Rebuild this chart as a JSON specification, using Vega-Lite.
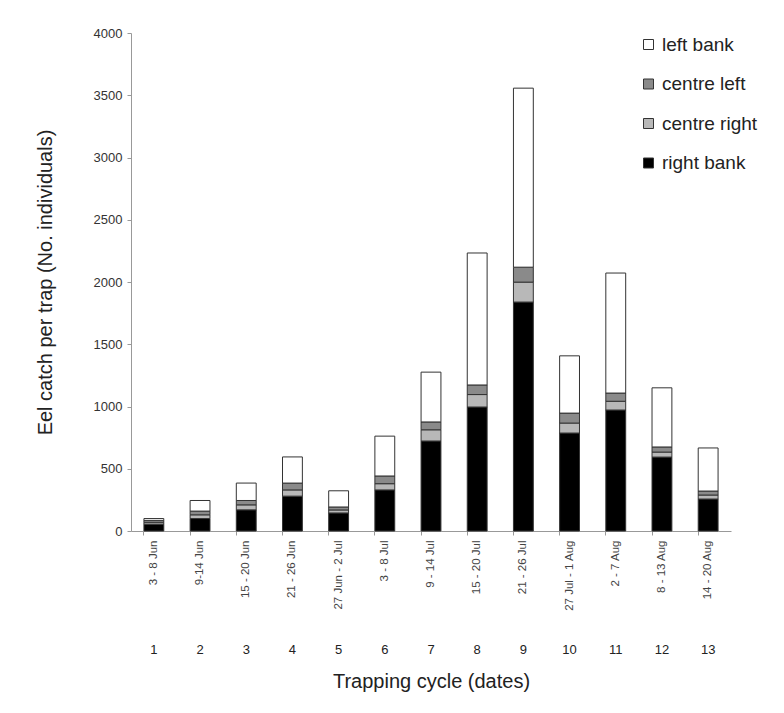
{
  "$schema": "https://vega.github.io/schema/vega-lite/v6.json",
  "width": 600,
  "height": 498,
  "autosize": {"type": "none"},
  "padding": {"left": 131, "top": 33, "right": 53, "bottom": 182},
  "background": "white",
  "config": {
    "font": "Liberation Sans",
    "view": {"stroke": null},
    "axis": {"labelColor": "#333", "titleColor": "#222", "domainColor": "#999", "tickColor": "#999", "grid": false, "labelFont": "Liberation Sans", "titleFont": "Liberation Sans", "titleFontWeight": "normal"},
    "axisY": {"titleFontSize": 20, "titlePadding": 38, "labelFontSize": 13, "tickSize": 4, "labelPadding": 5}
  },
  "data": {"values": [
    {"cycle": 1, "bank": "right bank", "ord": 1, "count": 55},
    {"cycle": 1, "bank": "centre right", "ord": 2, "count": 15},
    {"cycle": 1, "bank": "centre left", "ord": 3, "count": 15},
    {"cycle": 1, "bank": "left bank", "ord": 4, "count": 15},
    {"cycle": 2, "bank": "right bank", "ord": 1, "count": 100},
    {"cycle": 2, "bank": "centre right", "ord": 2, "count": 30},
    {"cycle": 2, "bank": "centre left", "ord": 3, "count": 30},
    {"cycle": 2, "bank": "left bank", "ord": 4, "count": 85},
    {"cycle": 3, "bank": "right bank", "ord": 1, "count": 170},
    {"cycle": 3, "bank": "centre right", "ord": 2, "count": 40},
    {"cycle": 3, "bank": "centre left", "ord": 3, "count": 35},
    {"cycle": 3, "bank": "left bank", "ord": 4, "count": 140},
    {"cycle": 4, "bank": "right bank", "ord": 1, "count": 280},
    {"cycle": 4, "bank": "centre right", "ord": 2, "count": 50},
    {"cycle": 4, "bank": "centre left", "ord": 3, "count": 55},
    {"cycle": 4, "bank": "left bank", "ord": 4, "count": 210},
    {"cycle": 5, "bank": "right bank", "ord": 1, "count": 145},
    {"cycle": 5, "bank": "centre right", "ord": 2, "count": 24},
    {"cycle": 5, "bank": "centre left", "ord": 3, "count": 24},
    {"cycle": 5, "bank": "left bank", "ord": 4, "count": 130},
    {"cycle": 6, "bank": "right bank", "ord": 1, "count": 330},
    {"cycle": 6, "bank": "centre right", "ord": 2, "count": 50},
    {"cycle": 6, "bank": "centre left", "ord": 3, "count": 62},
    {"cycle": 6, "bank": "left bank", "ord": 4, "count": 320},
    {"cycle": 7, "bank": "right bank", "ord": 1, "count": 723},
    {"cycle": 7, "bank": "centre right", "ord": 2, "count": 90},
    {"cycle": 7, "bank": "centre left", "ord": 3, "count": 63},
    {"cycle": 7, "bank": "left bank", "ord": 4, "count": 400},
    {"cycle": 8, "bank": "right bank", "ord": 1, "count": 996},
    {"cycle": 8, "bank": "centre right", "ord": 2, "count": 100},
    {"cycle": 8, "bank": "centre left", "ord": 3, "count": 77},
    {"cycle": 8, "bank": "left bank", "ord": 4, "count": 1060},
    {"cycle": 9, "bank": "right bank", "ord": 1, "count": 1839},
    {"cycle": 9, "bank": "centre right", "ord": 2, "count": 160},
    {"cycle": 9, "bank": "centre left", "ord": 3, "count": 120},
    {"cycle": 9, "bank": "left bank", "ord": 4, "count": 1438},
    {"cycle": 10, "bank": "right bank", "ord": 1, "count": 787},
    {"cycle": 10, "bank": "centre right", "ord": 2, "count": 80},
    {"cycle": 10, "bank": "centre left", "ord": 3, "count": 80},
    {"cycle": 10, "bank": "left bank", "ord": 4, "count": 460},
    {"cycle": 11, "bank": "right bank", "ord": 1, "count": 972},
    {"cycle": 11, "bank": "centre right", "ord": 2, "count": 70},
    {"cycle": 11, "bank": "centre left", "ord": 3, "count": 66},
    {"cycle": 11, "bank": "left bank", "ord": 4, "count": 964},
    {"cycle": 12, "bank": "right bank", "ord": 1, "count": 594},
    {"cycle": 12, "bank": "centre right", "ord": 2, "count": 40},
    {"cycle": 12, "bank": "centre left", "ord": 3, "count": 41},
    {"cycle": 12, "bank": "left bank", "ord": 4, "count": 475},
    {"cycle": 13, "bank": "right bank", "ord": 1, "count": 257},
    {"cycle": 13, "bank": "centre right", "ord": 2, "count": 32},
    {"cycle": 13, "bank": "centre left", "ord": 3, "count": 32},
    {"cycle": 13, "bank": "left bank", "ord": 4, "count": 346}
  ]},
  "resolve": {"axis": {"x": "independent"}},
  "layer": [
    {
      "mark": {"type": "bar", "stroke": "#333", "strokeWidth": 1},
      "encoding": {
        "x": {
          "field": "cycle", "type": "ordinal",
          "scale": {"paddingInner": 0.57, "paddingOuter": 0.28},
          "axis": {
            "orient": "bottom", "title": null, "labelAngle": -90, "labelPadding": 9, "labelFontSize": 11.5, "labelColor": "#444",
            "ticks": false, "domain": false, "labelOverlap": false,
            "labelExpr": "['3 - 8 Jun','9-14 Jun','15 - 20 Jun','21 - 26 Jun','27 Jun - 2 Jul','3 - 8 Jul','9 - 14 Jul','15 - 20 Jul','21 - 26 Jul','27 Jul - 1 Aug','2 - 7 Aug','8 - 13 Aug','14 - 20 Aug'][datum.value - 1]"
          }
        },
        "y": {
          "field": "count", "type": "quantitative", "stack": "zero",
          "title": "Eel catch per trap (No. individuals)",
          "scale": {"domain": [0, 4000], "nice": false},
          "axis": {"title": "Eel catch per trap (No. individuals)", "format": "d", "values": [0, 500, 1000, 1500, 2000, 2500, 3000, 3500, 4000]}
        },
        "color": {
          "field": "bank", "type": "nominal",
          "scale": {"domain": ["left bank", "centre left", "centre right", "right bank"], "range": ["#ffffff", "#8a8a8a", "#b8b8b8", "#000000"]},
          "legend": {
            "title": null, "orient": "none", "legendX": 508, "legendY": 2,
            "symbolType": "square", "symbolSize": 100, "symbolStrokeColor": "#333", "symbolStrokeWidth": 1,
            "labelFontSize": 19, "labelColor": "#222", "rowPadding": 19.5, "labelOffset": 4, "labelFont": "Liberation Sans", "labelLimit": 200
          }
        },
        "order": {"field": "ord", "type": "quantitative"}
      }
    },
    {
      "mark": {"type": "bar", "opacity": 0},
      "encoding": {
        "x": {
          "field": "cycle", "type": "ordinal",
          "axis": {
            "orient": "bottom", "title": "Trapping cycle (dates)", "titleFontSize": 20, "titlePadding": 15,
            "labelAngle": 0, "labelFontSize": 13, "labelColor": "#222", "labelPadding": 2, "offset": 110,
            "ticks": false, "domain": false
          }
        },
        "y": {
          "field": "count", "type": "quantitative", "stack": "zero",
          "title": "Eel catch per trap (No. individuals)",
          "axis": {"title": "Eel catch per trap (No. individuals)", "format": "d", "values": [0, 500, 1000, 1500, 2000, 2500, 3000, 3500, 4000]}
        }
      }
    },
    {
      "mark": {"type": "bar", "opacity": 0},
      "encoding": {
        "x": {
          "field": "cycle", "type": "ordinal",
          "axis": {
            "orient": "bottom", "title": null, "labels": false, "bandPosition": 0,
            "ticks": true, "tickSize": 4, "domain": true
          }
        },
        "y": {
          "field": "count", "type": "quantitative", "stack": "zero",
          "title": "Eel catch per trap (No. individuals)",
          "axis": {"title": "Eel catch per trap (No. individuals)", "format": "d", "values": [0, 500, 1000, 1500, 2000, 2500, 3000, 3500, 4000]}
        }
      }
    }
  ]
}
